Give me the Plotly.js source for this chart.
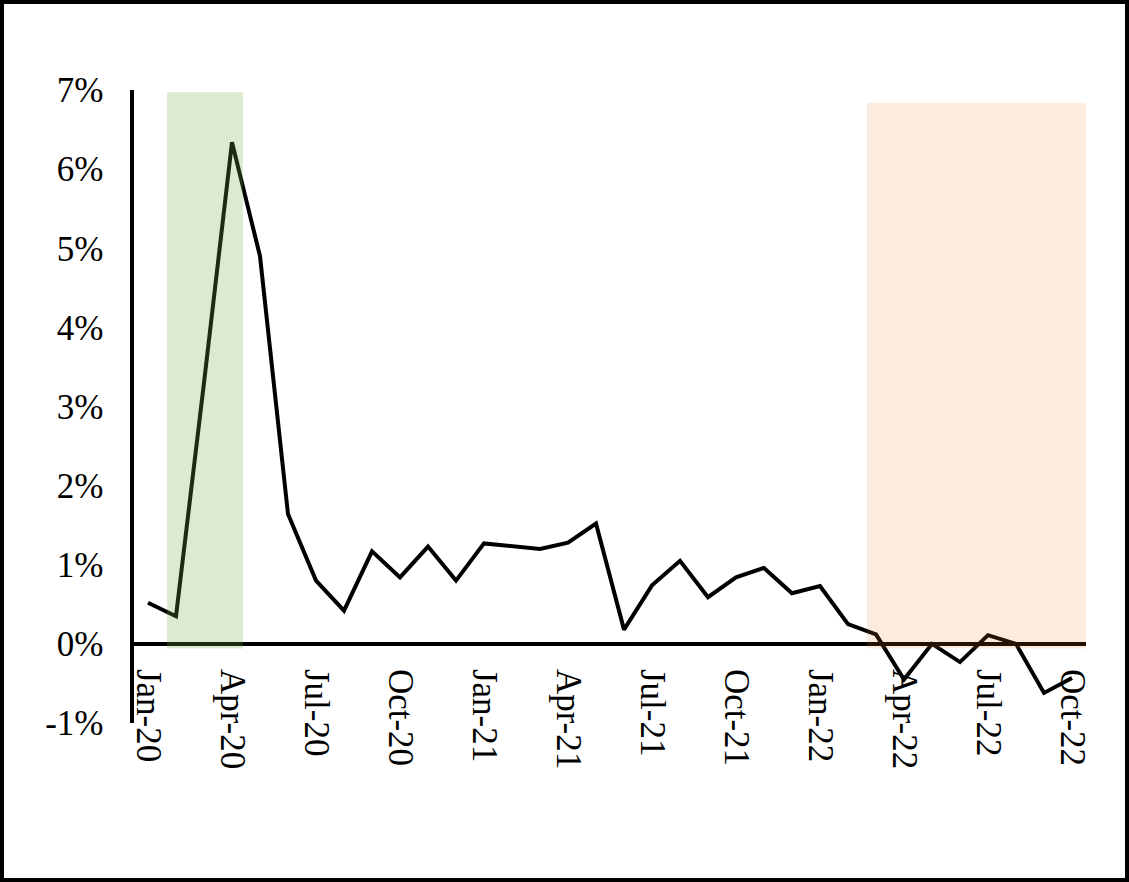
<!DOCTYPE html>
<html>
<head>
<meta charset="utf-8">
<script src="https://cdn.plot.ly/plotly-3.0.1.min.js"></script>
<style>
  html, body { margin: 0; padding: 0; background: #ffffff; }
  #chart { width: 1129px; height: 882px; }
</style>
</head>
<body>
<div id="chart"></div>
<script>
const months = [
  'Jan-20','Feb-20','Mar-20','Apr-20','May-20','Jun-20','Jul-20','Aug-20','Sep-20','Oct-20','Nov-20','Dec-20',
  'Jan-21','Feb-21','Mar-21','Apr-21','May-21','Jun-21','Jul-21','Aug-21','Sep-21','Oct-21','Nov-21','Dec-21',
  'Jan-22','Feb-22','Mar-22','Apr-22','May-22','Jun-22','Jul-22','Aug-22','Sep-22','Oct-22'
];
const values = [
  0.52, 0.35, 3.30, 6.34, 4.90, 1.64, 0.80, 0.42, 1.17, 0.84, 1.23, 0.80,
  1.27, 1.24, 1.20, 1.28, 1.52, 0.18, 0.74, 1.05, 0.59, 0.84, 0.96, 0.64,
  0.73, 0.25, 0.12, -0.45, 0.00, -0.23, 0.11, 0.00, -0.62, -0.43
];
const xTickLabels = ['Jan-20','Apr-20','Jul-20','Oct-20','Jan-21','Apr-21','Jul-21','Oct-21','Jan-22','Apr-22','Jul-22','Oct-22'];
const yTickValues = [-1, 0, 1, 2, 3, 4, 5, 6, 7];

const W = 1129, H = 882;
const M = {l: 134, r: 43, t: 90, b: 159};
const pw = W - M.l - M.r, ph = H - M.t - M.b;

const font = {family: '"Liberation Serif", "Times New Roman", serif', size: 35, color: '#000000'};

const trace = {
  type: 'scatter',
  mode: 'lines',
  x: months,
  y: values,
  line: {color: '#000000', width: 4},
  hoverinfo: 'skip',
  showlegend: false
};

const layout = {
  width: W, height: H,
  margin: M,
  paper_bgcolor: '#ffffff',
  plot_bgcolor: '#ffffff',
  showlegend: false,
  font: font,
  xaxis: {
    type: 'category',
    range: [-0.5, 33.5],
    tickmode: 'array',
    tickvals: xTickLabels,
    ticktext: xTickLabels,
    tickangle: 90,
    ticks: 'outside',
    ticklen: 16,
    tickcolor: 'rgba(0,0,0,0)',
    tickfont: font,
    showgrid: false,
    zeroline: false,
    showline: true,
    linecolor: '#000000',
    linewidth: 4,
    anchor: 'free',
    position: 1 / 8,
    fixedrange: true
  },
  yaxis: {
    range: [-1, 7],
    tickmode: 'array',
    tickvals: yTickValues,
    ticktext: yTickValues.map(v => v + '%'),
    ticks: 'outside',
    ticklen: 19,
    tickcolor: 'rgba(0,0,0,0)',
    tickfont: font,
    showgrid: false,
    zeroline: false,
    showline: true,
    linecolor: '#000000',
    linewidth: 4.5,
    fixedrange: true
  },
  shapes: [
    {type: 'rect', xref: 'x', yref: 'y', x0: 0.68, x1: 3.39, y0: -0.06, y1: 6.97,
     fillcolor: '#70AD47', opacity: 0.25, line: {width: 0}, layer: 'above'},
    {type: 'rect', xref: 'x', yref: 'y', x0: 25.68, x1: 33.68, y0: -0.06, y1: 6.84,
     fillcolor: '#ED7D31', opacity: 0.15, line: {width: 0}, layer: 'above'},
    {type: 'rect', xref: 'paper', yref: 'paper',
     x0: -(M.l - 2) / pw, x1: 1 + (M.r - 2) / pw,
     y0: -(M.b - 2) / ph, y1: 1 + (M.t - 2) / ph,
     line: {color: '#000000', width: 4}, fillcolor: 'rgba(0,0,0,0)', layer: 'above'}
  ]
};

Plotly.newPlot('chart', [trace], layout, {displayModeBar: false, staticPlot: true});
</script>
</body>
</html>
